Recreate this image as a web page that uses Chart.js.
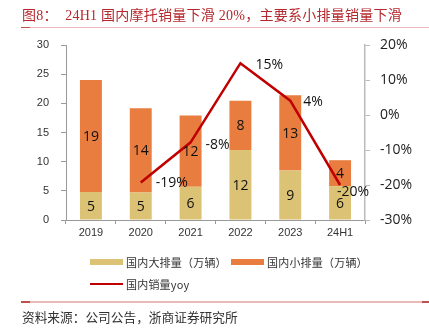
<!DOCTYPE html>
<html><head><meta charset="utf-8">
<script src="https://cdn.jsdelivr.net/npm/chart.js@4/dist/chart.umd.min.js"></script>
<style>
html,body{margin:0;padding:0;background:#fff;width:429px;height:329px;overflow:hidden;}
#wrap{position:relative;width:429px;height:329px;}
canvas{position:absolute;left:0;top:0;}
.abs{position:absolute;white-space:nowrap;}
#title{left:22px;top:4px;font:14px "Liberation Serif","Noto Sans CJK SC",serif;color:#b5282d;letter-spacing:0.25px;}
.rule{position:absolute;height:1.5px;background:#ebb9ba;}
.rule i{position:absolute;top:0;height:100%;background:#c0504d;}
#src{left:22px;top:307px;font:12.7px "Noto Sans CJK SC",sans-serif;color:#333;}
.lg{position:absolute;font:11px "Noto Sans CJK SC",sans-serif;color:#333;display:flex;align-items:center;letter-spacing:0.2px;}
.lg span.sw{display:inline-block;width:33px;margin-right:3px;}
</style></head>
<body><div id="wrap">
<canvas id="c" width="429" height="329"></canvas>
<div class="abs" id="title">图8：&nbsp;&nbsp;24H1 国内摩托销量下滑 20%，主要系小排量销量下滑</div>
<div class="rule" style="left:21px;top:26.5px;width:408px"><i style="left:0;width:9px"></i></div>
<div id="legend"></div>
<div class="rule" style="left:21px;top:301px;width:408px"><i style="left:0;width:9px"></i><i style="right:0;width:7px"></i></div>
<div class="abs" id="src">资料来源：公司公告，浙商证券研究所</div>
</div>
<script>
// ---- data ----
const categories = ['2019','2020','2021','2022','2023','24H1'];
const largeDisp = [4.8, 4.7, 5.7, 12.0, 8.5, 5.8];     // 国内大排量（万辆）
const smallDisp = [19.2, 14.45, 12.2, 8.45, 12.9, 4.45]; // 国内小排量（万辆）
const yoy = [null, -0.193, -0.078, 0.148, 0.041, -0.20]; // 国内销量yoy
const leftTicks = [0, 5, 10, 15, 20, 25, 30];
const rightTicks = [-0.3, -0.2, -0.1, 0, 0.1, 0.2];
const seriesNames = ['国内大排量（万辆）', '国内小排量（万辆）', '国内销量yoy'];

const colLarge = '#dbc274', colSmall = '#e97c3f', colLine = '#c00000';

const pctOffsets = [null, [15, 0], [15, 3], [15, 2], [13, 1], [-3, 7]];

const labelPlugin = {
  id: 'valueLabels',
  afterDatasetsDraw(chart) {
    const ctx = chart.ctx;
    ctx.save();
    ctx.fillStyle = '#111';
    ctx.textBaseline = 'middle';
    [0, 1].forEach(di => {
      const meta = chart.getDatasetMeta(di);
      ctx.font = '14px "Open Sans", sans-serif';
      ctx.textAlign = 'center';
      meta.data.forEach((el, i) => {
        const v = chart.data.datasets[di].data[i];
        if (v == null) return;
        ctx.fillText(String(Math.round(v)), el.x, (el.y + el.base) / 2 + 1);
      });
    });
    const lm = chart.getDatasetMeta(2);
    ctx.font = '14px "Open Sans", sans-serif';
    ctx.textAlign = 'left';
    lm.data.forEach((el, i) => {
      const v = chart.data.datasets[2].data[i];
      if (v == null) return;
      const o = pctOffsets[i] || [14, 0];
      ctx.fillText(Math.round(v * 100) + '%', el.x + o[0], el.y + o[1]);
    });
    ctx.restore();
  }
};

const tickFont = {family: '"Liberation Sans", Arial, sans-serif', size: 11};

const chart = new Chart(document.getElementById('c'), {
  data: {
    labels: categories,
    datasets: [
      {type: 'bar', label: seriesNames[0], data: largeDisp, backgroundColor: colLarge, yAxisID: 'y', order: 1, barPercentage: 0.44, categoryPercentage: 1},
      {type: 'bar', label: seriesNames[1], data: smallDisp, backgroundColor: colSmall, yAxisID: 'y', order: 1, barPercentage: 0.44, categoryPercentage: 1},
      {type: 'line', label: seriesNames[2], data: yoy, borderColor: colLine, backgroundColor: colLine, borderWidth: 2.5, pointRadius: 0, tension: 0, yAxisID: 'y1', order: 0}
    ]
  },
  options: {
    responsive: false,
    animation: false,
    devicePixelRatio: 1,
    layout: {padding: {top: 45, bottom: 89, left: 0, right: 0}},
    plugins: {legend: {display: false}, tooltip: {enabled: false}},
    scales: {
      x: {
        stacked: true,
        grid: {display: true, drawOnChartArea: false, offset: true, tickLength: 4, tickColor: '#999'},
        border: {display: true, color: '#999', width: 1},
        ticks: {font: tickFont, color: '#333', padding: 2, maxRotation: 0},
        afterFit(s) { s.height = 20; }
      },
      y: {
        stacked: true, position: 'left', min: 0, max: 30,
        afterBuildTicks(s) { s.ticks = leftTicks.map(v => ({value: v})); },
        grid: {display: true, drawOnChartArea: false, tickLength: 5, tickColor: '#999'},
        border: {display: true, color: '#999', width: 1},
        ticks: {font: tickFont, color: '#333', padding: 12},
        afterFit(s) { s.width = 66; }
      },
      y1: {
        position: 'right', min: -0.3, max: 0.2,
        afterBuildTicks(s) { s.ticks = rightTicks.map(v => ({value: v})); },
        grid: {display: true, drawOnChartArea: false, tickLength: 5, tickColor: '#bbb'},
        border: {display: true, color: '#bbb', width: 1.5},
        ticks: {font: {family: '"Open Sans", sans-serif', size: 14}, color: '#222', padding: 10,
          callback: v => Math.round(v * 100) + '%'},
        afterFit(s) { s.width = 64; }
      }
    }
  },
  plugins: [labelPlugin]
});

// HTML legend built from the chart's datasets
const lg = document.getElementById('legend');
const pos = [[90, 262], [231, 262], [90, 284]];
chart.data.datasets.forEach((ds, i) => {
  const d = document.createElement('div');
  d.className = 'lg';
  d.style.left = pos[i][0] + 'px';
  d.style.top = (pos[i][1] - 8) + 'px';
  d.style.height = '16px';
  const sw = document.createElement('span');
  sw.className = 'sw';
  sw.style.height = ds.type === 'line' ? '2.5px' : '6px';
  sw.style.background = ds.type === 'line' ? ds.borderColor : ds.backgroundColor;
  d.appendChild(sw);
  d.appendChild(document.createTextNode(ds.label));
  lg.appendChild(d);
});
</script>
</body></html>
